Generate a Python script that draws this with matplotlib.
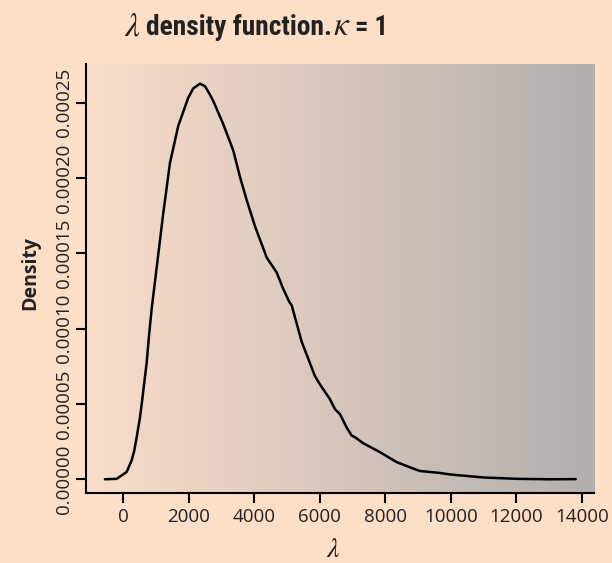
import matplotlib
matplotlib.use("Agg")
import matplotlib.pyplot as plt
import numpy as np

# density curve
lam = [-560, -200, 104, 256, 336, 409, 510, 562, 610, 714, 784, 867, 1221,
       1425, 1679, 1984, 2136, 2341, 2494, 2646, 2747, 3052, 3357, 3561,
       3766, 4020, 4377, 4682, 4883, 5067, 5140, 5445, 5851, 6004, 6309, 6462,
       6614, 6818, 6971, 7072, 7325, 7835, 8344, 8851, 9055, 9666, 9971,
       10988, 12007, 13023, 13808]
dens = [0.001, 0.004, 0.050, 0.127, 0.192, 0.280, 0.411, 0.499, 0.587, 0.774,
        0.951, 1.133, 1.767, 2.100, 2.346, 2.533, 2.594, 2.625, 2.609,
        2.553, 2.510, 2.357, 2.182, 2.008, 1.854, 1.680, 1.472, 1.373, 1.264,
        1.178, 1.155, 0.914, 0.685, 0.630, 0.532, 0.466, 0.433, 0.345, 0.291,
        0.280, 0.240, 0.181, 0.115, 0.072, 0.056, 0.043, 0.033, 0.013, 0.004,
        0.001, 0.002]
dens = [d * 1e-4 for d in dens]

xticks = [0, 2000, 4000, 6000, 8000, 10000, 12000, 14000]
yticks = [0.0, 0.00005, 0.0001, 0.00015, 0.0002, 0.00025]
ytick_labels = ["0.00000", "0.00005", "0.00010", "0.00015", "0.00020", "0.00025"]

bg = "#FDDEC6"
left_col = np.array([249, 221, 201]) / 255
right_col = np.array([178, 175, 173]) / 255
ink = "#222222"
narrow = ["Roboto Condensed", "Open Sans Condensed", "Liberation Sans Narrow",
          "Noto Sans", "DejaVu Sans"]

plt.rcParams["mathtext.fontset"] = "stix"
plt.rcParams["font.family"] = ["Open Sans", "DejaVu Sans"]

fig = plt.figure(figsize=(6.12, 5.63), dpi=100, facecolor=bg)
ax = fig.add_axes([86 / 612, 1 - 492.7 / 563, 508 / 612, 428.4 / 563])

# horizontal gradient behind the curve
t = np.linspace(0, 1, 256)
grad = left_col[None, :] * (1 - t[:, None]) + right_col[None, :] * t[:, None]
ax.imshow(grad[None, :, :], extent=[0, 1, 0, 1], transform=ax.transAxes,
          aspect="auto", zorder=0)

ax.plot(lam, dens, color="black", lw=1.8, solid_joinstyle="round",
        solid_capstyle="round", zorder=2)

ax.set_xlim(-1138, 14368)
ax.set_ylim(-0.0000088, 0.0002754)

for s in ["top", "right"]:
    ax.spines[s].set_visible(False)
for s in ["left", "bottom"]:
    ax.spines[s].set_linewidth(1.5)

ax.set_xticks(xticks)
ax.set_xticklabels([str(v) for v in xticks])
ax.set_yticks(yticks)
ax.set_yticklabels(ytick_labels, rotation=90, va="center")
ax.tick_params(axis="both", direction="out", length=7, width=1.5,
               labelsize=13.5, colors="black", labelcolor=ink)
ax.tick_params(axis="x", pad=4)
ax.tick_params(axis="y", pad=2)

# title in pieces: lambda, bold condensed text, kappa, "= 1"
ty = 1 - 35 / 563
fig.text(124 / 612, ty, r"$\lambda$", fontsize=24, va="baseline", ha="left", color=ink)
t1 = fig.text(146 / 612, ty, "density function.", fontsize=22, family=narrow,
              weight="bold", stretch="condensed", va="baseline", ha="left", color=ink)
fig.text(333 / 612, ty, r"$\kappa$", fontsize=24, va="baseline", ha="left", color=ink)
t2 = fig.text(355 / 612, ty, "= 1", fontsize=22, family=narrow, weight="bold",
              stretch="condensed", va="baseline", ha="left", color=ink)

# size the bold pieces to the widths seen in the reference
fig.canvas.draw()
r = fig.canvas.get_renderer()
for txt, w in [(t1, 186), (t2, 33)]:
    bw = txt.get_window_extent(r).width
    txt.set_fontsize(txt.get_fontsize() * w / bw)

fig.text(30 / 612, 1 - 273 / 563, "Density", rotation=90, fontsize=14,
         weight="bold", ha="center", va="center", color=ink)
fig.text(333 / 612, 1 - 557 / 563, r"$\lambda$", fontsize=20, ha="center",
         va="baseline", color=ink)

fig.savefig("out.png", dpi=100, facecolor=bg)
